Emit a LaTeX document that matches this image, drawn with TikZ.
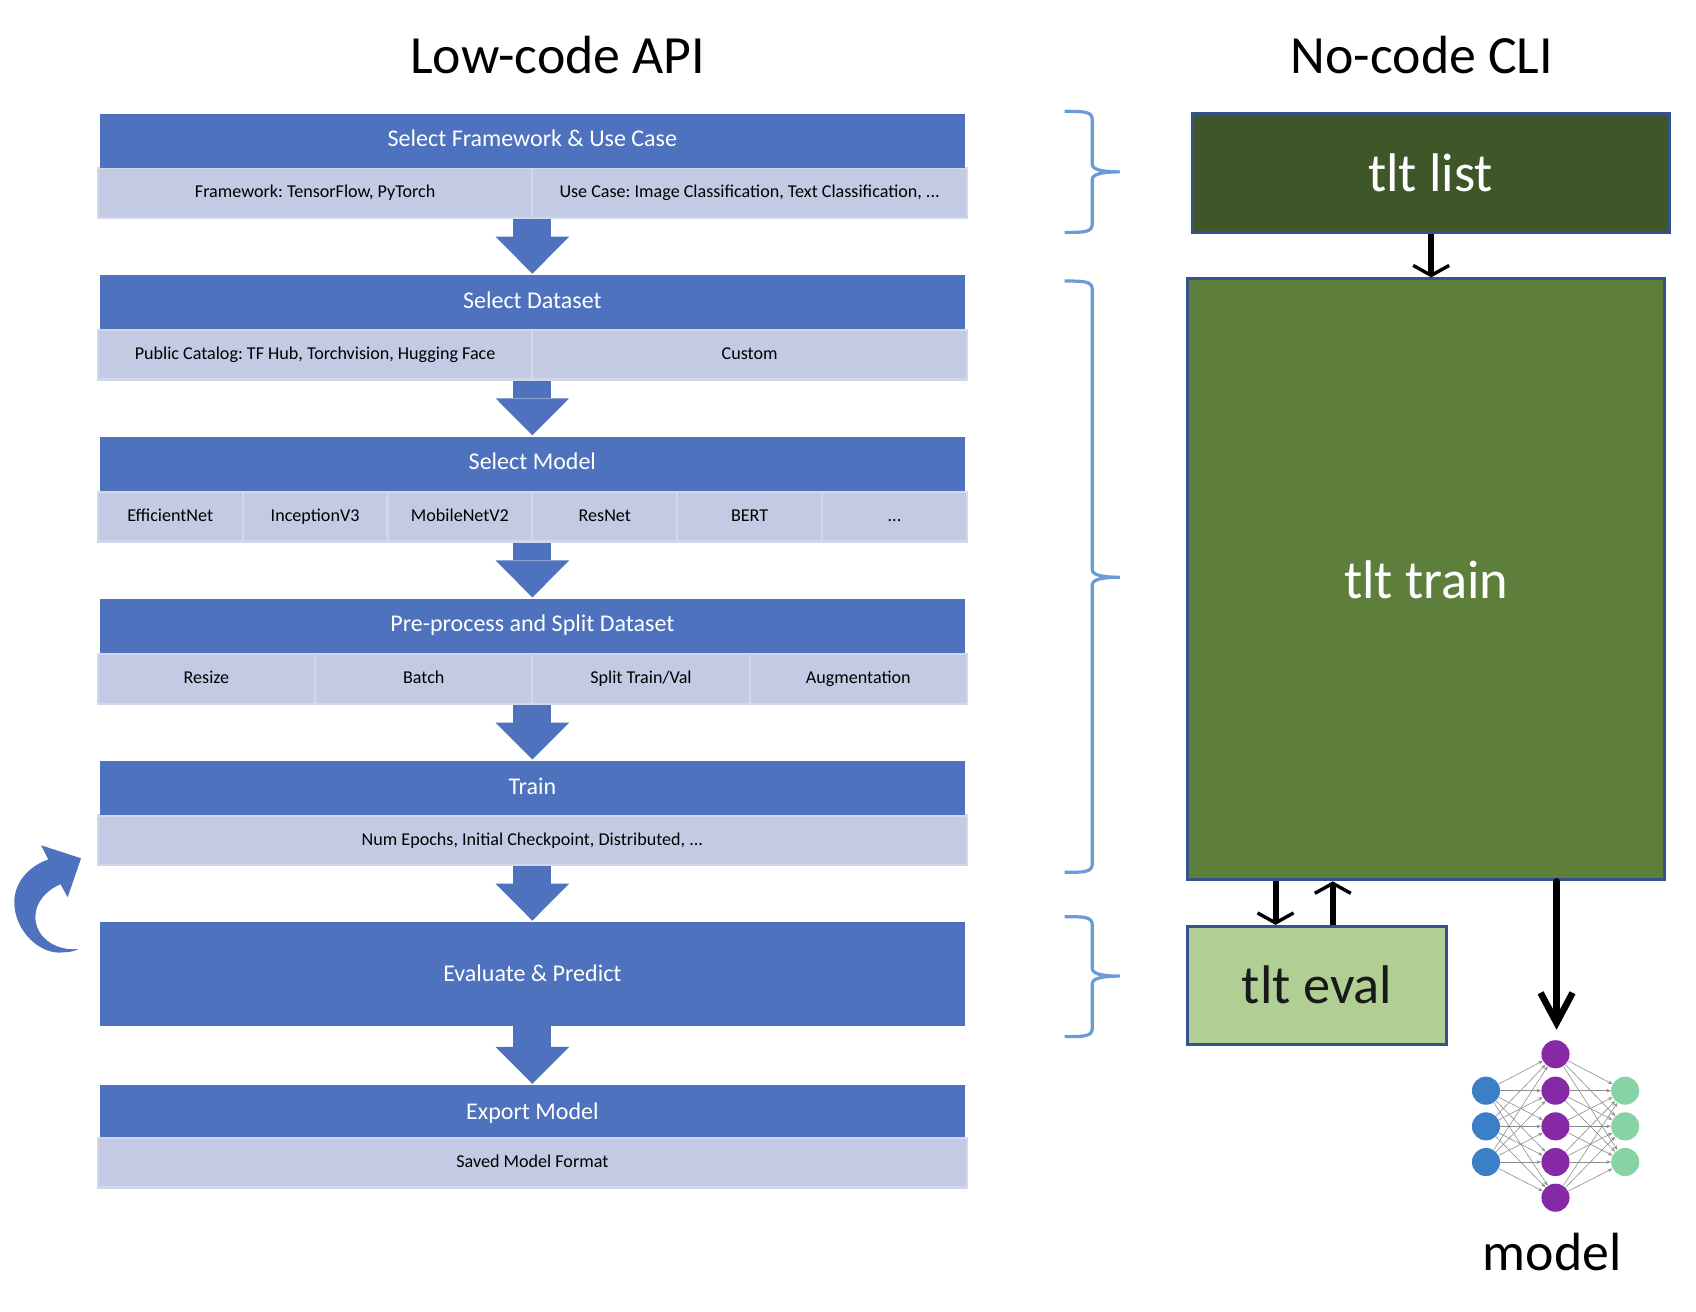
\documentclass[tikz,border=0pt]{standalone}
\usepackage{fontspec}
\setmainfont{Carlito}
\usetikzlibrary{arrows.meta}
\def\un{0.5405pt}
\frenchspacing
\definecolor{headblue}{HTML}{4E72BD}
\definecolor{cellblue}{HTML}{C3CBE4}
\definecolor{celledge}{HTML}{D2D7EB}
\definecolor{bracecol}{HTML}{6A9BD6}
\definecolor{boxedge}{HTML}{34528C}
\definecolor{listgreen}{HTML}{3F5629}
\definecolor{traingreen}{HTML}{5D7F3B}
\definecolor{evalgreen}{HTML}{B1CF94}
\tikzset{
	headbox/.style={rectangle, fill=headblue, text=white, font=\fontsize{12}{14}\selectfont, text height=.65em, text depth=.05em, minimum width=800*\un, minimum height=50*\un, inner sep=0pt},
	subcell/.style={rectangle, fill=cellblue, draw=celledge, line width=1.1pt, text=black, font=\fontsize{9.05}{11}\selectfont, text height=.65em, text depth=.18em, minimum height=46*\un, inner sep=0pt},
	blockarrow/.style={draw=headblue, line width=35*\un, shorten >=0.5pt, -{Triangle[length=18.5pt, width=36.8pt, line width=0pt]}},
	title/.style={font=\fontsize{26.9}{30}\selectfont, text=black},
	clibox/.style={rectangle, draw=boxedge, line width=1.5pt, font=\fontsize{27.2}{32}\selectfont, inner sep=0pt},
	smallarrow/.style={draw=black, line width=3pt, -{Straight Barb[length=5pt, width=18pt, line width=1.7pt]}},
	bigarrow/.style={draw=black, line width=3.3pt, line cap=round, -{Straight Barb[length=15pt, width=16pt, line width=3.3pt]}},
	bracket/.style={draw=bracecol, line width=1.6pt},
	neuron/.style={circle, minimum size=26*\un, inner sep=0pt},
	netedge/.style={draw=black!45, line width=0.3pt, -{Stealth[length=2.2pt, width=1.8pt]}},
}
\begin{document}
\begin{tikzpicture}[x=\un, y=-\un]
	\useasboundingbox (0,0) rectangle (1569,1213.7);

	\node (lowcode) [title] at (516,51) {Low-code API};
	\node (nocode) [title] at (1315.5,51) {No-code CLI};

	% Left column
	\begin{scope}[xshift=0.5*\un]
	\node (cell1a) [subcell, minimum width=402*\un] at (291,178.5) {Framework: TensorFlow, PyTorch};
	\node (cell1b) [subcell, minimum width=402*\un] at (693,178.5) {Use Case: Image Classification, Text Classification, ...};
	\node (head1) [headbox] at (492,130) {Select Framework \& Use Case};

	\node (cell2a) [subcell, minimum width=402*\un] at (291,328) {Public Catalog: TF Hub, Torchvision, Hugging Face};
	\node (cell2b) [subcell, minimum width=402*\un] at (693,328) {Custom};
	\node (head2) [headbox] at (492,279.5) {Select Dataset};

	\node (cell3a) [subcell, minimum width=134*\un] at (157,478) {EfficientNet};
	\node (cell3b) [subcell, minimum width=134*\un] at (291,478) {InceptionV3};
	\node (cell3c) [subcell, minimum width=134*\un] at (425,478) {MobileNetV2};
	\node (cell3d) [subcell, minimum width=134*\un] at (559,478) {ResNet};
	\node (cell3e) [subcell, minimum width=134*\un] at (693,478) {BERT};
	\node (cell3f) [subcell, minimum width=134*\un] at (827,478) {...};
	\node (head3) [headbox] at (492,429) {Select Model};

	\node (cell4a) [subcell, minimum width=201*\un] at (190.5,628) {Resize};
	\node (cell4b) [subcell, minimum width=201*\un] at (391.5,628) {Batch};
	\node (cell4c) [subcell, minimum width=201*\un] at (592.5,628) {Split Train/Val};
	\node (cell4d) [subcell, minimum width=201*\un] at (793.5,628) {Augmentation};
	\node (head4) [headbox] at (492,579) {Pre-process and Split Dataset};

	\node (cell5) [subcell, minimum width=804*\un] at (492,777.5) {Num Epochs, Initial Checkpoint, Distributed, ...};
	\node (head5) [headbox] at (492,729) {Train};

	\node (head6) [headbox, minimum height=96*\un, text height=.75em, text depth=0pt] at (492,901) {Evaluate \& Predict};

	\node (cell7) [subcell, minimum width=804*\un] at (492,1075.5) {Saved Model Format};
	\node (head7) [headbox, minimum height=48*\un, text height=.81em, text depth=0pt] at (492,1028) {Export Model};

	% Block arrows
	\draw[blockarrow] (head2.north |- cell1a.south) -- (head2.north);
	\draw[blockarrow] (head3.north |- cell2a.south) -- (head3.north);
	\draw[blockarrow] (head4.north |- cell3a.south) -- (head4.north);
	\draw[blockarrow] (head5.north |- cell4a.south) -- (head5.north);
	\draw[blockarrow] (head6.north |- cell5.south) -- (head6.north);
	\draw[blockarrow] (head7.north |- head6.south) -- (head7.north);
	\end{scope}

	% Loop arrow
	\fill[headblue] (75,794) -- (38,782) -- (44.7,795) .. controls (25,802) and (13,818) .. (13.2,835) .. controls (13.5,862) and (38,884) .. (58.6,881) .. controls (64,881) and (69,880) .. (72.4,878) .. controls (50,880) and (32.5,866) .. (32.7,848) .. controls (33,835) and (42,824) .. (56,818) -- (62.6,830) -- cycle;

	% Braces
	\foreach \btop/\bmid/\bbot in {103/159/215, 260/534/807, 848/903/959} {
		\draw[bracket] (985,\btop) .. controls (1003,\btop) and (1010.5,\btop) .. (1010.5,\btop+8) -- (1010.5,\bmid-7) .. controls (1010.5,\bmid-2) and (1020,\bmid) .. (1036,\bmid) .. controls (1020,\bmid) and (1010.5,\bmid+2) .. (1010.5,\bmid+7) -- (1010.5,\bbot-8) .. controls (1010.5,\bbot) and (1003,\bbot) .. (985,\bbot);
	}

	% Right column
	\node (tltlist) [clibox, fill=listgreen, text=white, minimum width=441*\un, minimum height=110*\un] at (1323.5,160) {tlt list};
	\node (tlttrain) [clibox, fill=traingreen, text=white, minimum width=441*\un, minimum height=556*\un] at (1319.5,536) {tlt train};
	\node (tlteval) [clibox, fill=evalgreen, text=black!90, minimum width=239*\un, minimum height=109*\un] at (1218.5,911.5) {tlt eval};

	\coordinate (listdown) at (1324,0);
	\coordinate (evaldown) at (1180,0);
	\coordinate (evalup) at (1233,0);
	\coordinate (modeldown) at (1440,0);

	% Network
	\foreach \i/\ypos in {1/1009, 2/1042, 3/1075} {
		\node (in\i) [neuron, fill={rgb,255:red,59;green,127;blue,198}] at (1374.7,\ypos) {};
		\node (out\i) [neuron, fill={rgb,255:red,135;green,211;blue,166}] at (1503.5,\ypos) {};
	}
	\foreach \i/\ypos in {1/975.3, 2/1009, 3/1042, 4/1075, 5/1108} {
		\node (hid\i) [neuron, fill={rgb,255:red,134;green,41;blue,166}] at (1439,\ypos) {};
	}
	\foreach \a in {1,2,3} {
		\foreach \b in {1,2,3,4,5} {
			\draw[netedge] (in\a) -- (hid\b);
			\draw[netedge] (hid\b) -- (out\a);
		}
	}
	\node (modeltext) [title] at (1436,1158) {model};

	% Arrows
	\draw[smallarrow] (listdown |- tltlist.south) -- (listdown |- tlttrain.north);
	\draw[smallarrow] (evaldown |- tlttrain.south) -- (evaldown |- tlteval.north);
	\draw[smallarrow] (evalup |- tlteval.north) -- (evalup |- tlttrain.south);
	\draw[bigarrow, shorten >=5pt] (modeldown |- tlttrain.south) -- (modeldown |- hid1.north);
\end{tikzpicture}
\end{document}
